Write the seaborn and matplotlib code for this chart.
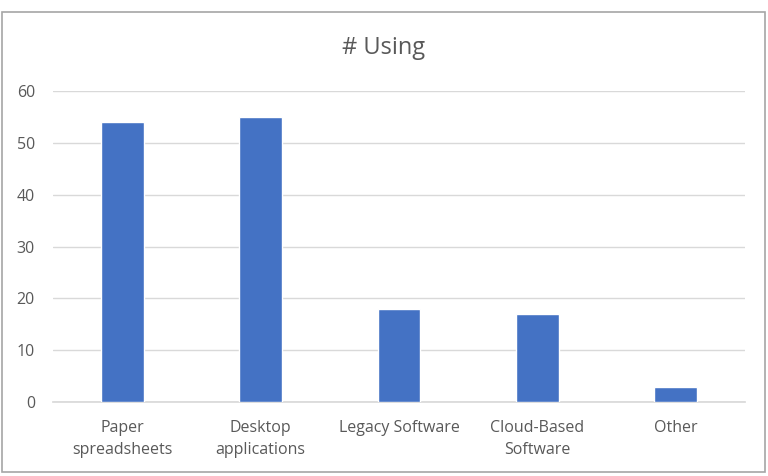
import matplotlib
matplotlib.use("Agg")
import matplotlib.pyplot as plt
import seaborn as sns
import pandas as pd
from matplotlib.patches import Rectangle

# Chart data
categories = ["Paper\nspreadsheets", "Desktop\napplications", "Legacy Software",
              "Cloud-Based\nSoftware", "Other"]
using = [54, 55, 18, 17, 3]
y_ticks = [0, 10, 20, 30, 40, 50, 60]

df = pd.DataFrame({"Category": categories, "Using": using})

sns.set_theme(style="white", rc={"axes.facecolor": "white", "figure.facecolor": "white"})
plt.rcParams["font.family"] = ["Open Sans", "DejaVu Sans"]

fig = plt.figure(figsize=(7.68, 4.76), dpi=100)
ax = fig.add_axes([0.069, 0.155, 0.901, 0.654])

sns.barplot(data=df, x="Category", y="Using", color="#4472C4", width=0.31,
            saturation=1, ax=ax, zorder=3)

ax.set_ylim(0, 60)
ax.set_xlim(-0.5, 4.5)
ax.set_yticks(y_ticks)
ax.yaxis.grid(True, color="#d9d9d9", linewidth=1, zorder=0)
ax.set_xlabel("")
ax.set_ylabel("")
for side in ["top", "right", "left"]:
    ax.spines[side].set_visible(False)
ax.spines["bottom"].set_color("#d9d9d9")
ax.tick_params(axis="both", length=0, colors="#595959", labelsize=11.5)
ax.tick_params(axis="x", pad=13)
ax.tick_params(axis="y", pad=13)
for lbl in ax.get_xticklabels():
    lbl.set_linespacing(1.45)

fig.text(0.5, 0.9, "# Using", ha="center", va="center", fontsize=17, color="#595959")

# chart frame
fig.patches.append(Rectangle((0.003, 0.008), 0.993, 0.966, transform=fig.transFigure,
                             fill=False, edgecolor="#a6a6a6", linewidth=1.2))

fig.savefig("out.png", dpi=100)
